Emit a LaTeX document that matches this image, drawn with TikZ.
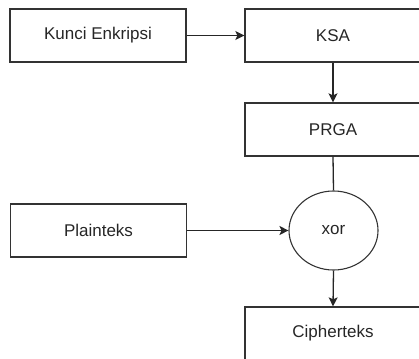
\documentclass[tikz,border=0pt]{standalone}
\usepackage{fontspec}
\setmainfont{Liberation Sans}
\usetikzlibrary{shapes.geometric,arrows.meta}
\tikzset{
  blockbox/.style={draw=black!80, line width=1.3pt, minimum width=176pt, minimum height=53pt,
    inner sep=0pt, font=\fontsize{17}{20}\selectfont, text=black!85},
  xorbox/.style={draw=black!80, line width=1.1pt, ellipse, minimum width=89pt, minimum height=79pt,
    inner sep=0pt, font=\fontsize{17}{20}\selectfont, text=black!85},
  flow/.style={draw=black!85, line width=1.3pt, -{Stealth[length=9pt,width=9pt,inset=2pt]}},
  plainline/.style={draw=black!85, line width=1.3pt}
}
\begin{document}
\begin{tikzpicture}[x=1pt,y=-1pt]
  \useasboundingbox (0,0) rectangle (419,358);
  \clip (0,0) rectangle (419,358);
  % boxes
  \node[blockbox] (key)    at (98,35.5)   {Kunci Enkripsi};
  \node[blockbox] (ksa)    at (333,35.5)  {KSA};
  \node[blockbox] (prga)   at (333,129.5) {PRGA};
  \node[blockbox] (plain)  at (98.5,230.5){Plainteks};
  \node[xorbox]   (xor)    at (333.5,230.5) {xor};
  \node[blockbox] (cipher) at (333,333.5) {Cipherteks};
  % connectors
  \draw[flow] (key.east) -- (ksa.west);
  \draw[flow] (ksa.south) -- (prga.north);
  \draw[plainline] (prga.south) -- (xor.north);
  \draw[flow] (plain.east) -- (xor.west);
  \draw[flow] (xor.south) -- (cipher.north);
\end{tikzpicture}
\end{document}
